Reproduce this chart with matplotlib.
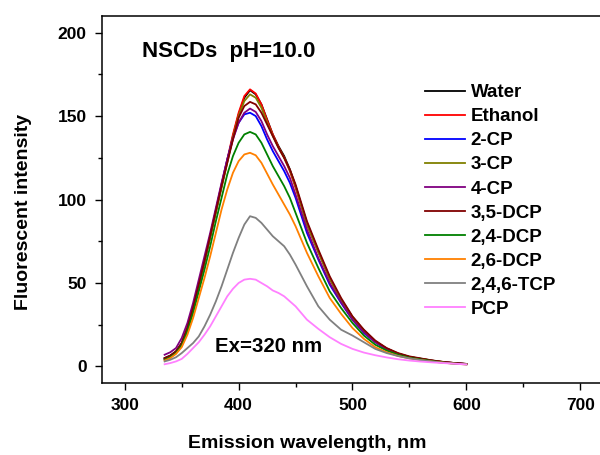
import numpy as np
import matplotlib
matplotlib.use("Agg")
import matplotlib.pyplot as plt
from matplotlib.ticker import MultipleLocator

plt.rcParams['font.family'] = ['Liberation Sans', 'DejaVu Sans']
plt.rcParams['font.weight'] = 'bold'

# emission wavelength (nm)
wl = [335, 340, 345, 350, 355, 360, 365, 370, 375, 380, 385, 390, 395, 400, 405,
      410, 415, 420, 425, 430, 435, 440, 445, 450, 460, 470, 480, 490, 500, 510,
      520, 530, 540, 550, 560, 570, 580, 590, 600]

water = [5, 6.5, 9, 14, 23, 35, 49, 63, 78, 93, 108, 123, 138, 151, 161, 165.5, 163, 157,
         148, 139, 132, 126, 118, 108, 86, 69, 53, 40, 29.5, 21.5, 15, 10.7, 7.7, 5.7,
         4.6, 3.5, 2.6, 2, 1.5]
ethanol = [4.5, 6, 8.5, 13.5, 22.5, 34.5, 48.5, 63, 78, 93.5, 109, 124, 139, 152, 162, 166,
           163.5, 157, 147.5, 139, 131.5, 125, 117, 107, 85, 68.5, 52.5, 40, 29.5, 21.5,
           15, 10.7, 7.6, 5.6, 4.5, 3.4, 2.5, 1.9, 1.4]
cp2 = [4.5, 6, 8.5, 13.5, 22.5, 34.5, 48.5, 63, 78, 93.5, 109, 124, 137, 146, 151, 152,
       150, 144, 136, 129, 123, 117, 110, 101, 80, 64, 49, 38, 28, 20, 14.5, 10, 7.3,
       5.4, 4.3, 3.3, 2.4, 1.9, 1.4]
cp3 = [4.5, 6, 8.5, 13.5, 22.5, 34.5, 48.5, 62.5, 77, 92, 107, 122, 137, 150, 159, 163,
       161, 155, 146, 138, 131, 125, 117.5, 108, 85, 68.5, 52.5, 40, 29.5, 21.5, 15,
       10.7, 7.7, 5.7, 4.6, 3.5, 2.6, 2, 1.5]
cp4 = [7, 8.5, 11, 17, 26, 38, 52, 66, 80, 95, 110, 124, 136, 146, 152, 154.5, 152.5,
       147, 139, 132, 126, 120, 113, 103, 82, 65, 50, 38.5, 28, 20.5, 14.5, 10.5, 7.5,
       5.5, 4.4, 3.4, 2.5, 2, 1.4]
dcp35 = [5, 6.5, 9, 14, 23, 35, 49, 63, 78, 93, 108, 122, 136, 149, 156, 158.5, 157, 152,
         145, 138, 131, 125, 118, 109, 87, 70, 54, 41, 30, 22, 15.5, 11, 8, 6, 4.8, 3.6,
         2.7, 2, 1.5]
dcp24 = [4, 5.5, 8, 12.5, 21, 32, 45, 58, 72, 87, 101, 115, 126, 134, 139, 140.5, 139,
         134, 127, 120, 114, 108, 101, 92, 74, 59, 45, 35, 26, 18.5, 13, 9.5, 7, 5.2,
         4.2, 3.2, 2.3, 1.7, 1.3]
dcp26 = [3.5, 5, 7.5, 11.5, 19, 29, 41, 53, 66, 80, 94, 106, 116, 123, 127, 128, 126.5,
         122, 115.5, 109, 103, 97, 91, 84, 68, 54, 41, 31.5, 23, 16.5, 11.5, 8.5, 6.3,
         4.8, 3.8, 2.9, 2.2, 1.6, 1.2]
tcp = [3, 4, 5.5, 8, 11, 14, 18, 24, 31, 39, 48, 58, 68, 77, 85, 90, 89, 86, 82, 78, 75,
       72, 67, 61, 48, 36, 28, 22, 18.5, 14.5, 10.5, 8, 6.2, 4.8, 3.8, 2.9, 2.2, 1.6, 1.2]
pcp = [1.3, 2, 3, 4.5, 7.5, 11, 14.5, 19, 24, 30, 36, 42, 46.5, 50, 52, 52.5, 52, 50, 48,
       45.5, 44, 42, 39, 36, 28, 22.5, 17.5, 13.5, 10.5, 8.3, 6.7, 5.4, 4.3, 3.5, 2.9,
       2.4, 2, 1.6, 1.2]

labels = ["Water", "Ethanol", "2-CP", "3-CP", "4-CP", "3,5-DCP", "2,4-DCP",
          "2,6-DCP", "2,4,6-TCP", "PCP"]
series = [water, ethanol, cp2, cp3, cp4, dcp35, dcp24, dcp26, tcp, pcp]
colors = ["#000000", "#FF0000", "#0000FF", "#808000", "#800080", "#800000",
          "#008000", "#FF8000", "#808080", "#FF80FF"]

fig = plt.figure(figsize=(6, 4.55), dpi=100)
ax = fig.add_axes([0.17, 0.158, 0.835, 0.807])

for y, lab, c in zip(series, labels, colors):
    ax.plot(wl, y, color=c, lw=1.3, label=lab)

ax.set_xlim(280, 720)
ax.set_ylim(-10, 210)
ax.xaxis.set_major_locator(MultipleLocator(100))
ax.xaxis.set_minor_locator(MultipleLocator(50))
ax.yaxis.set_major_locator(MultipleLocator(50))
ax.yaxis.set_minor_locator(MultipleLocator(25))
ax.tick_params(which='major', direction='out', length=5, width=1, labelsize=12.5, pad=6)
ax.tick_params(which='minor', direction='out', length=3, width=1)
for s in ax.spines.values():
    s.set_linewidth(1.1)
ax.spines['right'].set_visible(False)

ax.set_xlabel("Emission wavelength, nm", fontsize=14, fontweight='bold')
ax.set_ylabel("Fluorescent intensity", fontsize=14, fontweight='bold')
ax.xaxis.set_label_coords(0.409, -0.14)
ax.yaxis.set_label_coords(-0.14, 0.465)

ax.text(315, 185.5, "NSCDs  pH=10.0", fontsize=16, fontweight='bold')
ax.text(379, 8.5, "Ex=320 nm", fontsize=14.7, fontweight='bold')

ax.legend(loc='upper left', bbox_to_anchor=(0.708, 0.815), bbox_transform=fig.transFigure,
          frameon=False, fontsize=13.5, handlelength=2.15, handletextpad=0.3,
          labelspacing=0.37, borderpad=0, borderaxespad=0)

fig.savefig("out.png", dpi=100)
